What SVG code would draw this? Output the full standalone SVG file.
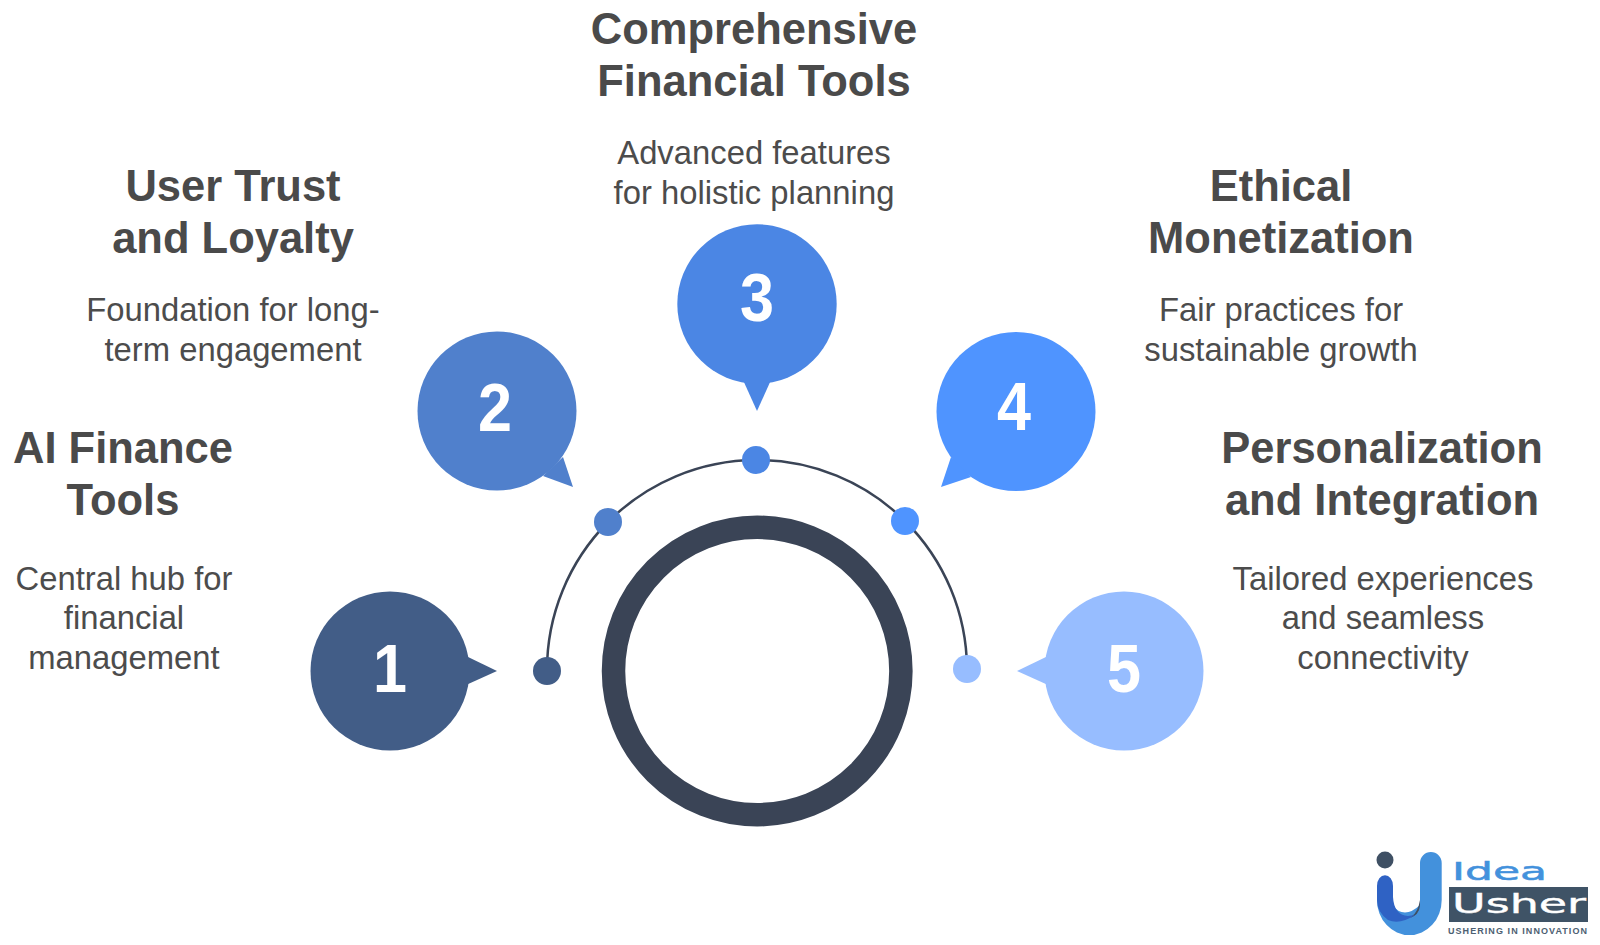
<svg xmlns="http://www.w3.org/2000/svg" width="1600" height="945" viewBox="0 0 1600 945">
<style>
text{font-family:"Liberation Sans",Arial,sans-serif;text-anchor:middle}
.h{font-size:43.500px;font-weight:700;fill:#4a4a4a}
.d{font-size:32.800px;fill:#4c4c4c}
.n{font-size:68px;font-weight:700;fill:#fff}
.arc{fill:none;stroke:#3a4456;stroke-width:2.5}
.logo{font-family:"DejaVu Sans",sans-serif;text-anchor:start}
</style>
<rect width="1600" height="945" fill="#fff"/>
<g id="connectors">
<path class="arc" d="M547 671A210 210 0 0 1 608 522"/>
<path class="arc" d="M608 522A210 210 0 0 1 756 460"/>
<path class="arc" d="M756 460A210 210 0 0 1 905 521"/>
<path class="arc" d="M905 521A210 210 0 0 1 967 669"/>
</g>
<g id="ring"><circle cx="757.200" cy="671" r="143.700" fill="none" stroke="#3a4456" stroke-width="23.500"/></g>
<g id="node-1" fill="#425d87">
<circle cx="390" cy="671" r="79.500"/><path d="M466 656L497 671L466 685Z"/><circle cx="547" cy="671" r="14"/>
<text class="n" x="390" y="692" textLength="34" lengthAdjust="spacingAndGlyphs">1</text>
<text class="h" x="123" y="463">AI Finance</text><text class="h" x="123" y="515">Tools</text>
<text class="d" x="124" y="590">Central hub for</text><text class="d" x="124" y="629">financial</text><text class="d" x="124" y="668.500">management</text>
</g>
<g id="node-2" fill="#5080cc">
<circle cx="497" cy="411" r="79.500"/><path d="M563 457L573 487L543 476Z"/><circle cx="608" cy="522" r="14"/>
<text class="n" x="495" y="431" textLength="34" lengthAdjust="spacingAndGlyphs">2</text>
<text class="h" x="233" y="201">User Trust</text><text class="h" x="233" y="253">and Loyalty</text>
<text class="d" x="233" y="321">Foundation for long-</text><text class="d" x="233" y="361">term engagement</text>
</g>
<g id="node-3" fill="#4b86e4">
<circle cx="757" cy="304" r="79.700"/><path d="M743 380L757 411L771 380Z"/><circle cx="756" cy="460" r="14"/>
<text class="n" x="757" y="321" textLength="34" lengthAdjust="spacingAndGlyphs">3</text>
<text class="h" x="754" y="44">Comprehensive</text><text class="h" x="754" y="95.500">Financial Tools</text>
<text class="d" x="754" y="164">Advanced features</text><text class="d" x="754" y="203.500">for holistic planning</text>
</g>
<g id="node-4" fill="#4f94ff">
<circle cx="1016" cy="411.500" r="79.500"/><path d="M951 457L941 487L971 477Z"/><circle cx="905" cy="521" r="14"/>
<text class="n" x="1014" y="430" textLength="34" lengthAdjust="spacingAndGlyphs">4</text>
<text class="h" x="1281" y="201">Ethical</text><text class="h" x="1281" y="253">Monetization</text>
<text class="d" x="1281" y="321">Fair practices for</text><text class="d" x="1281" y="361">sustainable growth</text>
</g>
<g id="node-5" fill="#97bdff">
<circle cx="1124" cy="671" r="79.500"/><path d="M1048 656L1017 671L1048 685Z"/><circle cx="967" cy="669" r="14"/>
<text class="n" x="1124" y="692" textLength="34" lengthAdjust="spacingAndGlyphs">5</text>
<text class="h" x="1382" y="463">Personalization</text><text class="h" x="1382" y="515">and Integration</text>
<text class="d" x="1383" y="590">Tailored experiences</text><text class="d" x="1383" y="629">and seamless</text><text class="d" x="1383" y="668.500">connectivity</text>
</g>
<g id="logo">
<circle cx="1385" cy="860" r="8.500" fill="#3f5064"/>
<path d="M1420 863A10.800 11 0 0 1 1441.700 863V900A32.300 35 0 0 1 1377 900V895L1392 905Q1404 920 1420 905Z" fill="#4391dc"/>
<path d="M1412 916Q1418 912 1420 900V906Q1419 915 1410 918Z" fill="#3f5064"/>
<path d="M1377 886A8 10.800 0 0 1 1393 886V897Q1394 915 1408 916L1415 915Q1400 925 1388 920Q1377 912 1377 900Z" fill="#2f62c4"/>
<rect x="1449" y="887" width="139" height="35" fill="#3f5366"/>
<text class="logo" x="1452" y="880" font-size="25" fill="#4391dc" stroke="#4391dc" stroke-width="0.500" textLength="95" lengthAdjust="spacingAndGlyphs">Idea</text>
<text class="logo" x="1452" y="913" font-size="27" fill="#fff" stroke="#fff" stroke-width="0.400" textLength="134" lengthAdjust="spacingAndGlyphs">Usher</text>
<text x="1517.500" y="934" font-size="9" font-weight="700" fill="#4d6072" textLength="139" lengthAdjust="spacing">USHERING IN INNOVATION</text>
</g>
</svg>
